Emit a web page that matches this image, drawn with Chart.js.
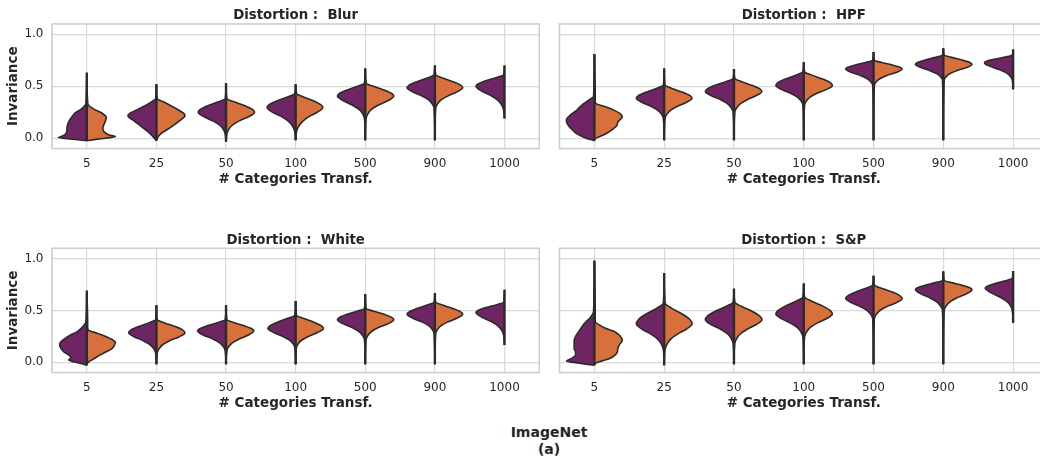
<!DOCTYPE html>
<html>
<head>
<meta charset="utf-8">
<script src="https://cdn.jsdelivr.net/npm/chart.js@4.4.1/dist/chart.umd.min.js"></script>
<style>
  html, body { margin: 0; padding: 0; background: #fff; }
  body { width: 1040px; height: 460px; overflow: hidden; position: relative; }
  canvas { position: absolute; }
  #footer { position: absolute; left: 449px; width: 200px; top: 424px; text-align: center;
    font: bold 14px "DejaVu Sans"; line-height: 16.5px; color: #262626; }
</style>
</head>
<body>
<canvas id="blur" width="545" height="188" style="left:0;top:0"></canvas>
<canvas id="hpf" width="503" height="188" style="left:545px;top:0"></canvas>
<canvas id="white" width="545" height="188" style="left:0;top:224px"></canvas>
<canvas id="sp" width="503" height="188" style="left:545px;top:224px"></canvas>
<div id="footer">ImageNet<br>(a)</div>
<script>
const categories = ['5', '25', '50', '100', '500', '900', '1000'];
const yTicks = [0, 0.5, 1.0];

// each violin: rows of [invariance, purple half-width, orange half-width] (widths in category units)
const blurViolins = [
  [[-0.025,0,0],[-0.01,0.2,0.15],[0.005,0.41,0.34],[0.015,0.37,0.41],[0.03,0.32,0.32],[0.06,0.29,0.25],[0.09,0.285,0.23],[0.12,0.28,0.24],[0.17,0.25,0.27],[0.2,0.22,0.28],[0.24,0.17,0.22],[0.28,0.08,0.1],[0.32,0.02,0.02],[0.35,0.012,0.012],[0.63,0,0]],
  [[-0.025,0,0],[0.0,0.03,0.012],[0.045,0.095,0.07],[0.11,0.215,0.22],[0.17,0.33,0.34],[0.215,0.41,0.41],[0.24,0.38,0.39],[0.285,0.24,0.28],[0.35,0.07,0.1],[0.38,0.012,0.012],[0.52,0,0]],
  [[-0.035,0,0],[0.04,0.012,0.012],[0.082,0.037,0.037],[0.124,0.09,0.09],[0.166,0.19,0.19],[0.208,0.32,0.33],[0.25,0.40,0.41],[0.276,0.37,0.38],[0.31,0.27,0.28],[0.35,0.11,0.115],[0.38,0.012,0.012],[0.53,0,0]],
  [[-0.02,0,0],[0.06,0.012,0.012],[0.107,0.037,0.037],[0.154,0.09,0.09],[0.202,0.19,0.18],[0.249,0.33,0.31],[0.296,0.41,0.39],[0.323,0.38,0.36],[0.356,0.28,0.27],[0.397,0.115,0.11],[0.43,0.012,0.012],[0.52,0,0]],
  [[-0.02,0,0],[0.19,0.012,0.012],[0.233,0.037,0.037],[0.276,0.09,0.09],[0.319,0.19,0.19],[0.362,0.32,0.33],[0.405,0.40,0.41],[0.43,0.37,0.38],[0.461,0.27,0.28],[0.499,0.11,0.115],[0.53,0.012,0.012],[0.67,0,0]],
  [[-0.02,0,0],[0.29,0.012,0.012],[0.329,0.037,0.037],[0.368,0.09,0.09],[0.407,0.19,0.19],[0.446,0.32,0.32],[0.485,0.40,0.40],[0.51,0.37,0.37],[0.541,0.27,0.27],[0.579,0.11,0.11],[0.61,0.012,0.012],[0.70,0,0]],
  [[0.19,0],[0.27,0.012],[0.316,0.037],[0.362,0.09],[0.408,0.19],[0.454,0.33],[0.50,0.41],[0.522,0.38],[0.55,0.28],[0.583,0.115],[0.61,0.012],[0.70,0]]
];
const hpfViolins = [
  [[-0.025,0,0],[0.0,0.12,0.02],[0.01,0.16,0.06],[0.045,0.26,0.17],[0.09,0.33,0.27],[0.12,0.37,0.32],[0.16,0.40,0.34],[0.18,0.40,0.37],[0.205,0.37,0.40],[0.22,0.35,0.39],[0.24,0.31,0.36],[0.27,0.25,0.28],[0.30,0.21,0.17],[0.33,0.16,0.03],[0.35,0.115,0.012],[0.38,0.05,0.012],[0.40,0.012,0.012],[0.81,0,0]],
  [[-0.02,0,0],[0.19,0.012,0.012],[0.229,0.037,0.037],[0.268,0.09,0.09],[0.307,0.19,0.19],[0.346,0.32,0.32],[0.385,0.40,0.40],[0.41,0.37,0.37],[0.441,0.27,0.27],[0.479,0.11,0.11],[0.51,0.012,0.012],[0.67,0,0]],
  [[-0.02,0,0],[0.25,0.012,0.012],[0.29,0.037,0.037],[0.33,0.09,0.09],[0.37,0.19,0.19],[0.41,0.33,0.32],[0.45,0.41,0.40],[0.475,0.38,0.37],[0.506,0.28,0.27],[0.544,0.115,0.11],[0.575,0.012,0.012],[0.665,0,0]],
  [[-0.02,0,0],[0.32,0.012,0.012],[0.358,0.037,0.037],[0.395,0.09,0.09],[0.433,0.19,0.19],[0.47,0.32,0.33],[0.508,0.40,0.41],[0.534,0.37,0.38],[0.567,0.27,0.28],[0.607,0.11,0.115],[0.64,0.012,0.012],[0.73,0,0]],
  [[-0.02,0,0],[0.51,0.012,0.012],[0.541,0.037,0.037],[0.572,0.09,0.09],[0.603,0.19,0.19],[0.634,0.32,0.33],[0.665,0.40,0.41],[0.682,0.37,0.38],[0.703,0.27,0.28],[0.729,0.11,0.115],[0.75,0.012,0.012],[0.83,0,0]],
  [[-0.02,0,0],[0.56,0.012,0.012],[0.59,0.037,0.037],[0.62,0.09,0.09],[0.65,0.19,0.19],[0.68,0.32,0.33],[0.71,0.40,0.41],[0.728,0.37,0.38],[0.75,0.27,0.28],[0.778,0.11,0.115],[0.80,0.012,0.012],[0.865,0,0]],
  [[0.47,0],[0.56,0.012],[0.593,0.037],[0.626,0.09],[0.659,0.19],[0.692,0.33],[0.725,0.41],[0.74,0.38],[0.759,0.28],[0.781,0.115],[0.80,0.012],[0.855,0]]
];
const whiteViolins = [
  [[-0.03,0,0],[-0.01,0.1,0.012],[0.005,0.2,0.03],[0.02,0.26,0.07],[0.04,0.23,0.12],[0.07,0.26,0.19],[0.10,0.33,0.28],[0.13,0.37,0.36],[0.17,0.39,0.40],[0.19,0.38,0.41],[0.23,0.31,0.33],[0.26,0.24,0.23],[0.29,0.15,0.1],[0.31,0.11,0.02],[0.35,0.05,0.012],[0.39,0.012,0.012],[0.69,0,0]],
  [[-0.02,0,0],[0.09,0.012,0.012],[0.129,0.037,0.037],[0.168,0.09,0.09],[0.207,0.19,0.19],[0.246,0.32,0.33],[0.285,0.40,0.41],[0.31,0.37,0.38],[0.341,0.27,0.28],[0.379,0.11,0.115],[0.41,0.012,0.012],[0.55,0,0]],
  [[-0.02,0,0],[0.11,0.012,0.012],[0.148,0.037,0.037],[0.186,0.09,0.09],[0.224,0.19,0.19],[0.262,0.33,0.32],[0.30,0.41,0.40],[0.322,0.38,0.37],[0.35,0.28,0.27],[0.383,0.115,0.11],[0.41,0.012,0.012],[0.55,0,0]],
  [[-0.02,0,0],[0.14,0.012,0.012],[0.177,0.037,0.037],[0.214,0.09,0.09],[0.251,0.19,0.19],[0.288,0.32,0.32],[0.325,0.40,0.40],[0.351,0.37,0.37],[0.384,0.27,0.27],[0.423,0.11,0.11],[0.455,0.012,0.012],[0.59,0,0]],
  [[-0.02,0,0],[0.22,0.012,0.012],[0.258,0.037,0.037],[0.296,0.09,0.09],[0.334,0.19,0.19],[0.372,0.32,0.33],[0.41,0.40,0.41],[0.432,0.37,0.38],[0.46,0.27,0.28],[0.493,0.11,0.115],[0.52,0.012,0.012],[0.655,0,0]],
  [[-0.02,0,0],[0.28,0.012,0.012],[0.316,0.037,0.037],[0.353,0.09,0.09],[0.389,0.19,0.19],[0.426,0.32,0.32],[0.462,0.40,0.40],[0.486,0.37,0.37],[0.515,0.27,0.27],[0.551,0.11,0.11],[0.58,0.012,0.012],[0.665,0,0]],
  [[0.165,0],[0.26,0.012],[0.304,0.037],[0.348,0.09],[0.392,0.19],[0.436,0.33],[0.48,0.41],[0.50,0.38],[0.525,0.28],[0.555,0.115],[0.58,0.012],[0.70,0]]
];
const spViolins = [
  [[-0.03,0,0],[-0.012,0.2,0.012],[0.0,0.33,0.05],[0.01,0.40,0.1],[0.035,0.33,0.22],[0.07,0.27,0.30],[0.10,0.27,0.33],[0.13,0.29,0.335],[0.17,0.29,0.36],[0.21,0.29,0.40],[0.26,0.26,0.36],[0.30,0.22,0.27],[0.33,0.19,0.15],[0.36,0.16,0.07],[0.39,0.12,0.012],[0.43,0.06,0.012],[0.49,0.012,0.012],[0.98,0,0]],
  [[-0.03,0,0],[0.12,0.012,0.012],[0.17,0.037,0.037],[0.22,0.09,0.09],[0.27,0.19,0.19],[0.32,0.32,0.32],[0.37,0.40,0.40],[0.41,0.37,0.37],[0.46,0.27,0.27],[0.52,0.11,0.11],[0.57,0.012,0.012],[0.86,0,0]],
  [[-0.02,0,0],[0.18,0.012,0.012],[0.226,0.037,0.037],[0.272,0.09,0.09],[0.318,0.19,0.19],[0.364,0.33,0.32],[0.41,0.41,0.40],[0.444,0.38,0.37],[0.487,0.28,0.27],[0.538,0.115,0.11],[0.58,0.012,0.012],[0.71,0,0]],
  [[-0.02,0,0],[0.245,0.012,0.012],[0.289,0.037,0.037],[0.333,0.09,0.09],[0.377,0.19,0.19],[0.421,0.32,0.33],[0.465,0.40,0.41],[0.498,0.37,0.38],[0.539,0.27,0.28],[0.589,0.11,0.115],[0.63,0.012,0.012],[0.76,0,0]],
  [[-0.02,0,0],[0.42,0.012,0.012],[0.459,0.037,0.037],[0.498,0.09,0.09],[0.537,0.19,0.19],[0.576,0.32,0.33],[0.615,0.40,0.41],[0.641,0.37,0.38],[0.674,0.27,0.28],[0.713,0.11,0.115],[0.745,0.012,0.012],[0.835,0,0]],
  [[-0.02,0,0],[0.50,0.012,0.012],[0.54,0.037,0.037],[0.58,0.09,0.09],[0.62,0.19,0.19],[0.66,0.32,0.33],[0.70,0.40,0.41],[0.718,0.37,0.38],[0.741,0.27,0.28],[0.768,0.11,0.115],[0.79,0.012,0.012],[0.875,0,0]],
  [[0.38,0],[0.50,0.012],[0.543,0.037],[0.586,0.09],[0.629,0.19],[0.672,0.32],[0.715,0.40],[0.734,0.37],[0.758,0.27],[0.786,0.11],[0.81,0.012],[0.88,0]]
];

const PURPLE = '#6f2563';
const ORANGE = '#d8703c';
const EDGE = '#2b2b2b';
const TEXT = '#262626';
const GRID = '#d9d9d9';
const FONT = 'DejaVu Sans';

const frame = {
  id: 'frame',
  beforeDatasetsDraw(chart) {
    const a = chart.chartArea, ctx = chart.ctx;
    ctx.save();
    ctx.strokeStyle = '#cccccc';
    ctx.lineWidth = 1.5;
    ctx.strokeRect(a.left, a.top, a.right - a.left, a.bottom - a.top);
    ctx.restore();
  }
};

function violinSets(violins) {
  const sets = [];
  violins.forEach((rows, i) => {
    sets.push({
      data: [{x: i, y: rows[0][0]}, {x: i, y: rows[rows.length - 1][0]}],
      borderColor: EDGE, borderWidth: 2.4, fill: false, order: 0
    });
    sets.push({
      data: rows.map(r => ({x: i - r[1], y: r[0]})),
      backgroundColor: PURPLE, borderColor: EDGE, fill: {value: i}, order: 1
    });
    if (rows[0].length > 2) {
      sets.push({
        data: rows.map(r => ({x: i + r[2], y: r[0]})),
        backgroundColor: ORANGE, borderColor: EDGE, fill: {value: i}, order: 1
      });
    }
  });
  return sets;
}

function makePanel(id, title, violins, showY, titleTop, padRight) {
  new Chart(document.getElementById(id), {
    type: 'line',
    data: { datasets: violinSets(violins) },
    plugins: [frame],
    options: {
      indexAxis: 'y',
      responsive: false,
      animation: false,
      devicePixelRatio: 1,
      layout: { padding: { right: padRight } },
      elements: {
        point: { radius: 0 },
        line: { borderWidth: 1.6, cubicInterpolationMode: 'monotone' }
      },
      plugins: {
        legend: { display: false },
        tooltip: { enabled: false },
        title: {
          display: true, text: title, fullSize: false, color: TEXT,
          font: { family: FONT, size: 13.3, weight: 'bold' },
          padding: { top: titleTop, bottom: 0 }
        }
      },
      scales: {
        x: {
          type: 'linear', min: -0.5, max: 6.5,
          afterBuildTicks: s => { s.ticks = categories.map((c, i) => ({ value: i })); },
          afterFit: s => { s.height = 39.5; },
          ticks: { callback: v => categories[v], padding: 8, color: TEXT, font: { family: FONT, size: 12 } },
          grid: { color: GRID, lineWidth: 1.2, drawTicks: false },
          border: { display: false },
          title: {
            display: true, text: '# Categories Transf.', color: TEXT,
            font: { family: FONT, size: 13.5, weight: 'bold' }, padding: 0
          }
        },
        y: {
          type: 'linear', min: -0.1, max: 1.1,
          afterBuildTicks: s => { s.ticks = yTicks.map(v => ({ value: v })); },
          afterFit: s => { s.width = showY ? 52 : 14.5; },
          ticks: { display: showY, callback: v => v.toFixed(1), padding: 8.5, color: TEXT, font: { family: FONT, size: 12 } },
          grid: { color: GRID, lineWidth: 1.2, drawTicks: false },
          border: { display: false },
          title: {
            display: showY, text: 'Invariance', color: TEXT,
            font: { family: FONT, size: 13.5, weight: 'bold' }, padding: { top: 5, bottom: 0 }
          }
        }
      }
    }
  });
}

makePanel('blur', 'Distortion :  Blur', blurViolins, true, 8, 5.7);
makePanel('hpf', 'Distortion :  HPF', hpfViolins, false, 8, 0);
makePanel('white', 'Distortion :  White', whiteViolins, true, 8.3, 5.7);
makePanel('sp', 'Distortion :  S&P', spViolins, false, 8.3, 0);
</script>
</body>
</html>
